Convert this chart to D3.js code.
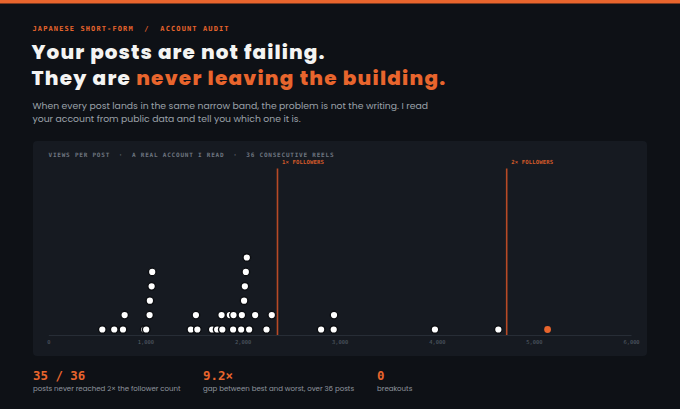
<!DOCTYPE html>
<html>
<head>
<meta charset="utf-8">
<script src="https://cdn.jsdelivr.net/npm/d3@7/dist/d3.min.js"></script>
<style>
	html, body { margin: 0; padding: 0; background: #0e1116; }
	svg { display: block; }
	.mono { font-family: "DejaVu Sans Mono", "Liberation Mono", monospace; }
	.sans { font-family: Poppins, Inter, "Noto Sans", sans-serif; }
</style>
</head>
<body>
<div id="chart"></div>
<script>

// views per reel, 36 consecutive posts
const views = [
	556, 679, 769, 786, 988, 1008, 1043, 1046, 1064, 1070,
	1468, 1520, 1535, 1687, 1739, 1784, 1792, 1869, 1903, 1907,
	1986, 1993, 2016, 2024, 2034, 2044, 2068, 2130, 2247, 2301,
	2809, 2939, 2942, 3981, 4634, 5141
];
const followers = 2360;
const followerMarks = [1, 2];
const axisTicks = [0, 1000, 2000, 3000, 4000, 5000, 6000];

const statValues = ['35 / 36', '9.2\u00d7', '0'];
const statLabels = [
	'posts never reached 2\u00d7 the follower count',
	'gap between best and worst, over 36 posts',
	'breakouts'
];

const ORANGE = '#e8652d';

class DotPlot {

	constructor(options) {
		this.element = options.element;
		this.width = 680;
		this.height = 409;
		this.draw();
	}

	draw() {
		this.createSVG();
		this.createHeader();
		this.createPanel();
		this.createScales();
		this.createAxis();
		this.createMarks();
		this.createDots();
		this.createStats();
	}

	createSVG() {
		this.svg = d3.select(this.element)
			.append('svg')
				.attr('width', this.width)
				.attr('height', this.height);

		this.svg.append('rect')
			.attr('width', this.width)
			.attr('height', this.height)
			.attr('fill', '#0e1116');

		this.svg.append('rect')
			.attr('width', this.width)
			.attr('height', 3.5)
			.attr('fill', ORANGE);
	}

	// scale a text so it covers a given width
	fit(sel, target) {
		const w = sel.node().getComputedTextLength();
		const fs = parseFloat(sel.attr('font-size'));
		sel.attr('font-size', fs * target / w);
		return fs * target / w;
	}

	// keep the size, spread the letters to cover a given width
	spread(sel, target) {
		const w = sel.node().getComputedTextLength();
		const n = sel.text().length;
		sel.attr('letter-spacing', (target - w) / n);
	}

	createHeader() {
		const g = this.svg.append('g');

		g.append('text')
			.attr('class', 'mono')
			.attr('x', 32.5)
			.attr('y', 30.5)
			.attr('font-size', 7)
			.attr('font-weight', 700)
			.attr('fill', ORANGE)
			.attr('textLength', 196)
			.attr('lengthAdjust', 'spacing')
			.style('white-space', 'pre')
			.text('JAPANESE SHORT-FORM  /  ACCOUNT AUDIT');

		const t1 = g.append('text')
			.attr('class', 'sans')
			.attr('x', 31.5)
			.attr('y', 58.5)
			.attr('font-size', 20)
			.attr('font-weight', 800)
			.attr('fill', '#f4f4f2')
			.text('Your posts are not failing.');
		this.spread(t1, 294);

		const t2 = g.append('text')
			.attr('class', 'sans')
			.attr('x', 31.5)
			.attr('y', 84.5)
			.attr('font-size', 20)
			.attr('font-weight', 800)
			.attr('fill', '#f4f4f2');
		t2.append('tspan').text('They are ');
		t2.append('tspan').attr('fill', ORANGE).text('never leaving the building.');
		this.spread(t2, 415);

		const s1 = g.append('text')
			.attr('class', 'sans')
			.attr('x', 32.5)
			.attr('y', 108.5)
			.attr('font-size', 10.5)
			.attr('fill', '#9ba1a9')
			.text('When every post lands in the same narrow band, the problem is not the writing. I read');
		const fs = this.fit(s1, 396);

		g.append('text')
			.attr('class', 'sans')
			.attr('x', 32.5)
			.attr('y', 122)
			.attr('font-size', fs)
			.attr('fill', '#9ba1a9')
			.text('your account from public data and tell you which one it is.');
	}

	createPanel() {
		this.svg.append('rect')
			.attr('x', 33)
			.attr('y', 141)
			.attr('width', 614)
			.attr('height', 215)
			.attr('rx', 4)
			.attr('fill', '#161a21');

		this.svg.append('text')
			.attr('class', 'mono')
			.attr('x', 48.5)
			.attr('y', 156.8)
			.attr('font-size', 6)
			.attr('font-weight', 700)
			.attr('fill', '#6f7680')
			.attr('textLength', 285)
			.attr('lengthAdjust', 'spacing')
			.style('white-space', 'pre')
			.text('VIEWS PER POST  \u00b7  A REAL ACCOUNT I READ  \u00b7  36 CONSECUTIVE REELS');
	}

	createScales() {
		this.xScale = d3.scaleLinear()
			.domain([0, 6000])
			.range([48.3, 631]);

		// stack rows, bottom row is 0
		this.yScale = d3.scaleLinear()
			.domain([0, 5])
			.range([329.5, 329.5 - 5 * 14.4]);
	}

	createAxis() {
		const axis = d3.axisBottom(this.xScale)
			.tickValues(axisTicks)
			.tickSize(0)
			.tickPadding(5.5)
			.tickFormat(d3.format(','));

		const g = this.svg.append('g')
			.attr('transform', 'translate(0, 335)')
			.call(axis);

		g.select('.domain')
			.attr('stroke', '#272d36')
			.attr('stroke-width', 1);

		g.selectAll('text')
			.attr('class', 'mono')
			.attr('font-size', 5.4)
			.attr('fill', '#56606b');
	}

	createMarks() {
		const that = this;
		const g = this.svg.append('g');

		g.selectAll('line')
			.data(followerMarks).enter()
			.append('line')
				.attr('x1', d => that.xScale(d * followers))
				.attr('x2', d => that.xScale(d * followers))
				.attr('y1', 168.5)
				.attr('y2', 335)
				.attr('stroke', '#b84a26')
				.attr('stroke-width', 1.6);

		g.selectAll('text')
			.data(followerMarks).enter()
			.append('text')
				.attr('class', 'mono')
				.attr('x', d => that.xScale(d * followers) + 4.5)
				.attr('y', 164.3)
				.attr('font-size', 5.6)
				.attr('font-weight', 700)
				.attr('fill', '#d45a2a')
				.attr('textLength', 42)
				.attr('lengthAdjust', 'spacing')
				.text(d => d + '\u00d7 FOLLOWERS');
	}

	createDots() {
		const that = this;

		// dot plot: bin the values, stack each bin upward in value order
		const binWidth = 87.5;
		const binOrigin = 1000;
		const counts = new Map();
		const dots = views.slice().sort(d3.ascending).map(v => {
			const bin = Math.floor((v - binOrigin) / binWidth);
			const row = counts.get(bin) || 0;
			counts.set(bin, row + 1);
			return { v: v, row: row };
		});

		this.svg.append('g')
			.selectAll('circle')
			.data(dots).enter()
			.append('circle')
				.attr('cx', d => that.xScale(d.v))
				.attr('cy', d => that.yScale(d.row))
				.attr('r', d => d.v > 2 * followers ? 3.4 : 3.8)
				.attr('fill', d => d.v > 2 * followers ? ORANGE : '#ffffff')
				.attr('stroke', d => d.v > 2 * followers ? 'none' : '#0b0d11')
				.attr('stroke-width', 1.4);
	}

	createStats() {
		const xs = [33, 203, 377];
		const g = this.svg.append('g');

		g.selectAll('text.num')
			.data(statValues).enter()
			.append('text')
				.attr('class', 'mono num')
				.attr('x', (d, i) => xs[i])
				.attr('y', 380)
				.attr('font-size', 12.4)
				.attr('font-weight', 700)
				.attr('fill', ORANGE)
				.style('white-space', 'pre')
				.text(d => d);

		const labels = g.selectAll('text.lab')
			.data(statLabels).enter()
			.append('text')
				.attr('class', 'sans lab')
				.attr('x', (d, i) => xs[i])
				.attr('y', 391)
				.attr('font-size', 8)
				.attr('fill', '#8e959e')
				.text(d => d);

		const first = d3.select(labels.nodes()[0]);
		const fs = this.fit(first, 148);
		labels.attr('font-size', fs);
	}

}

new DotPlot({ element: '#chart' });
</script>
</body>
</html>
